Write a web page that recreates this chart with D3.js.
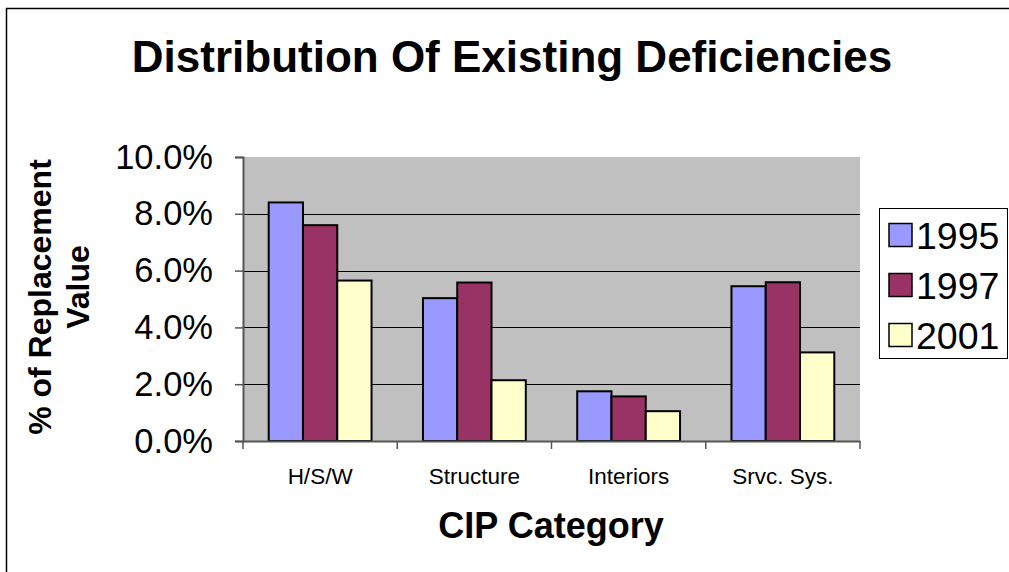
<!DOCTYPE html>
<html>
<head>
<meta charset="utf-8">
<script src="https://cdn.jsdelivr.net/npm/d3@7"></script>
<style>
  html, body { margin: 0; padding: 0; background: #fff; }
  svg { display: block; }
  text { font-family: "Liberation Sans", Arial, sans-serif; fill: #000; }
</style>
</head>
<body>
<svg id="chart" width="1009" height="572"></svg>
<script>
// Deficiency share of replacement value, by CIP category and survey year
const categories = ["H/S/W", "Structure", "Interiors", "Srvc. Sys."];
const years = ["1995", "1997", "2001"];
const values1995 = [8.40, 5.03, 1.75, 5.45];
const values1997 = [7.60, 5.58, 1.57, 5.59];
const values2001 = [5.65, 2.14, 1.05, 3.12];
const yTicks = [0, 2, 4, 6, 8, 10];
const colors = ["#9999FF", "#993366", "#FFFFCC"];

const seriesValues = [values1995, values1997, values2001];
const rows = categories.map((c, i) => ({
  category: c,
  bars: years.map((y, k) => ({ year: y, value: seriesValues[k][i], k }))
}));

const svg = d3.select("#chart");

// chart frame (left and top edges)
svg.append("path")
  .attr("d", "M6.5,572 V8.5 H1009")
  .attr("fill", "none")
  .attr("stroke", "#000")
  .attr("stroke-width", 1.5);

const plot = { left: 243, right: 860, top: 157, bottom: 441 };

const x = d3.scaleBand()
  .domain(categories)
  .range([plot.left, plot.right])
  .paddingInner(0)
  .paddingOuter(0);

const inner = d3.scaleBand()
  .domain(years)
  .range([0, x.bandwidth()])
  .paddingInner(0)
  .paddingOuter(0.75);

const y = d3.scaleLinear()
  .domain([0, 10])
  .range([plot.bottom, plot.top]);

// plot background
svg.append("rect")
  .attr("x", plot.left).attr("y", plot.top)
  .attr("width", plot.right - plot.left)
  .attr("height", plot.bottom - plot.top)
  .attr("fill", "#C0C0C0");

// gridlines
svg.append("g")
  .selectAll("line")
  .data(yTicks.filter(t => t > 0 && t < 10))
  .join("line")
  .attr("x1", plot.left).attr("x2", plot.right)
  .attr("y1", d => Math.round(y(d)) + 0.5)
  .attr("y2", d => Math.round(y(d)) + 0.5)
  .attr("stroke", "#000")
  .attr("stroke-width", 1);

// bars
const groups = svg.append("g")
  .selectAll("g")
  .data(rows)
  .join("g")
  .attr("transform", d => `translate(${x(d.category)},0)`);

groups.selectAll("rect")
  .data(d => d.bars)
  .join("rect")
  .attr("x", d => inner(d.year))
  .attr("y", d => y(d.value))
  .attr("width", inner.bandwidth())
  .attr("height", d => y(0) - y(d.value))
  .attr("fill", d => colors[d.k])
  .attr("stroke", "#000")
  .attr("stroke-width", 2);

// y axis
const yAxis = svg.append("g")
  .attr("transform", `translate(${plot.left},0)`)
  .call(d3.axisLeft(y).tickValues(yTicks).tickSize(8).tickPadding(22)
    .tickFormat(d => d3.format(".1f")(d) + "%"));
yAxis.select(".domain").attr("stroke", "#555").attr("stroke-width", 2);
yAxis.selectAll(".tick line").attr("stroke", "#555").attr("stroke-width", 1.5);
yAxis.selectAll(".tick text")
  .attr("font-size", 34.5)
  .attr("font-family", "Liberation Sans, Arial, sans-serif")
  .attr("fill", "#000");

// x axis: ticks sit on category boundaries
const xAxis = svg.append("g")
  .attr("transform", `translate(0,${plot.bottom})`)
  .call(d3.axisBottom(x).tickSize(0).tickPadding(27));
xAxis.select(".domain").attr("stroke", "#555").attr("stroke-width", 2);
xAxis.selectAll(".tick text")
  .attr("font-size", 22.5)
  .attr("font-family", "Liberation Sans, Arial, sans-serif")
  .attr("fill", "#000");

const boundaries = categories.map(c => x(c)).concat([x.range()[1]]);
xAxis.append("g")
  .selectAll("line")
  .data(boundaries)
  .join("line")
  .attr("x1", d => d).attr("x2", d => d)
  .attr("y1", 0).attr("y2", 8)
  .attr("stroke", "#555")
  .attr("stroke-width", 1.5);

// title
svg.append("text")
  .attr("x", 512).attr("y", 72)
  .attr("text-anchor", "middle")
  .attr("font-size", 44)
  .attr("font-weight", "bold")
  .text("Distribution Of Existing Deficiencies");

// x axis title
svg.append("text")
  .attr("x", 551).attr("y", 538)
  .attr("text-anchor", "middle")
  .attr("font-size", 36)
  .attr("font-weight", "bold")
  .text("CIP Category");

// y axis title (two lines)
const yTitle = svg.append("text")
  .attr("transform", "translate(51,297) rotate(-90)")
  .attr("text-anchor", "middle")
  .attr("font-size", 32)
  .attr("font-weight", "bold");
yTitle.append("tspan").attr("x", 0).attr("y", 0).text("% of Replacement");
yTitle.append("tspan").attr("x", 10).attr("y", 38).text("Value");

// legend
const legend = svg.append("g");
legend.append("rect")
  .attr("x", 879.5).attr("y", 208.5)
  .attr("width", 128).attr("height", 150)
  .attr("fill", "#fff")
  .attr("stroke", "#000")
  .attr("stroke-width", 1);

const items = legend.selectAll("g.item")
  .data(years)
  .join("g")
  .attr("class", "item")
  .attr("transform", (d, i) => `translate(889,${235 + i * 50})`);

items.append("rect")
  .attr("x", 0).attr("y", -11.5)
  .attr("width", 23).attr("height", 23)
  .attr("fill", (d, i) => colors[i])
  .attr("stroke", "#000")
  .attr("stroke-width", 1.5);

items.append("text")
  .attr("x", 27).attr("y", 0)
  .attr("dy", "0.36em")
  .attr("font-size", 37.5)
  .text(d => d);
</script>
</body>
</html>
